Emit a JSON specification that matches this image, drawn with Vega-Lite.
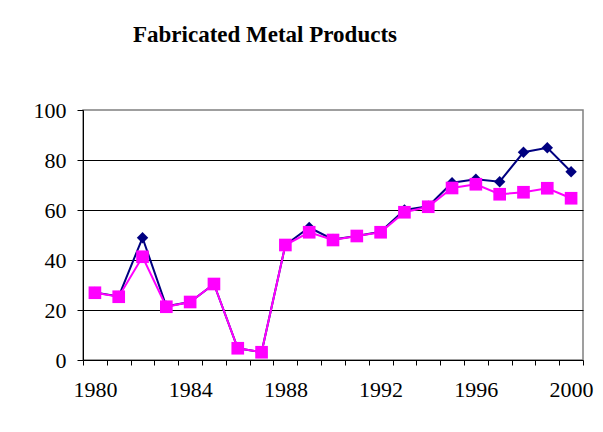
{
  "$schema": "https://vega.github.io/schema/vega-lite/v6.json",
  "width": 500,
  "height": 250,
  "autosize": {"type": "none"},
  "padding": {"left": 83, "top": 110, "right": 20, "bottom": 72},
  "background": "white",
  "title": {
    "text": "Fabricated Metal Products",
    "font": "Liberation Serif",
    "fontSize": 23,
    "fontWeight": "bold",
    "color": "black",
    "anchor": "middle",
    "frame": "group",
    "dx": -68,
    "baseline": "alphabetic",
    "offset": 34
  },
  "config": {
    "view": {"stroke": "#808080", "strokeWidth": 1.5},
    "font": "Liberation Serif"
  },
  "data": {
    "values": [
      {"year": 1980, "series": "A", "value": 27.0},
      {"year": 1981, "series": "A", "value": 25.4},
      {"year": 1982, "series": "A", "value": 48.9},
      {"year": 1983, "series": "A", "value": 21.5},
      {"year": 1984, "series": "A", "value": 23.2},
      {"year": 1985, "series": "A", "value": 30.4},
      {"year": 1986, "series": "A", "value": 4.7},
      {"year": 1987, "series": "A", "value": 3.1},
      {"year": 1988, "series": "A", "value": 46.0},
      {"year": 1989, "series": "A", "value": 53.0},
      {"year": 1990, "series": "A", "value": 48.2},
      {"year": 1991, "series": "A", "value": 49.6},
      {"year": 1992, "series": "A", "value": 51.3},
      {"year": 1993, "series": "A", "value": 60.0},
      {"year": 1994, "series": "A", "value": 61.5},
      {"year": 1995, "series": "A", "value": 70.9},
      {"year": 1996, "series": "A", "value": 72.3},
      {"year": 1997, "series": "A", "value": 71.3},
      {"year": 1998, "series": "A", "value": 83.1},
      {"year": 1999, "series": "A", "value": 84.9},
      {"year": 2000, "series": "A", "value": 75.3},
      {"year": 1980, "series": "B", "value": 26.9},
      {"year": 1981, "series": "B", "value": 25.3},
      {"year": 1982, "series": "B", "value": 41.3},
      {"year": 1983, "series": "B", "value": 21.3},
      {"year": 1984, "series": "B", "value": 23.2},
      {"year": 1985, "series": "B", "value": 30.4},
      {"year": 1986, "series": "B", "value": 4.7},
      {"year": 1987, "series": "B", "value": 3.1},
      {"year": 1988, "series": "B", "value": 46.0},
      {"year": 1989, "series": "B", "value": 51.1},
      {"year": 1990, "series": "B", "value": 48.0},
      {"year": 1991, "series": "B", "value": 49.6},
      {"year": 1992, "series": "B", "value": 51.1},
      {"year": 1993, "series": "B", "value": 59.1},
      {"year": 1994, "series": "B", "value": 61.3},
      {"year": 1995, "series": "B", "value": 68.8},
      {"year": 1996, "series": "B", "value": 70.3},
      {"year": 1997, "series": "B", "value": 66.3},
      {"year": 1998, "series": "B", "value": 67.1},
      {"year": 1999, "series": "B", "value": 68.7},
      {"year": 2000, "series": "B", "value": 64.7}
    ]
  },
  "encoding": {
    "x": {
      "field": "year",
      "type": "ordinal",
      "scale": {"type": "band", "paddingInner": 0, "paddingOuter": 0},
      "axis": {
        "title": null,
        "labelAngle": 0,
        "labelExpr": "datum.value % 4 == 0 ? datum.label : ''",
        "tickBand": "extent",
        "tickSize": 5,
        "tickColor": "black",
        "domainColor": "black",
        "labelFont": "Liberation Serif",
        "labelFontSize": 22,
        "labelColor": "black",
        "labelPadding": 14,
        "grid": false
      }
    },
    "y": {
      "field": "value",
      "type": "quantitative",
      "scale": {"domain": [0, 100], "nice": false},
      "axis": {
        "title": null,
        "values": [0, 20, 40, 60, 80, 100],
        "tickSize": 6,
        "tickColor": "black",
        "domainColor": "black",
        "labelFont": "Liberation Serif",
        "labelFontSize": 22,
        "labelColor": "black",
        "labelPadding": 11,
        "grid": true,
        "gridColor": {"condition": {"test": "datum.value == 100 || datum.value == 0", "value": "transparent"}, "value": "black"},
        "gridOpacity": 1
      }
    },
    "color": {
      "field": "series",
      "type": "nominal",
      "scale": {"domain": ["A", "B"], "range": ["#000080", "#FF00FF"]},
      "legend": null
    }
  },
  "layer": [
    {
      "transform": [{"filter": "datum.series == 'A'"}],
      "layer": [
        {"mark": {"type": "line", "strokeWidth": 2}, "encoding": {}},
        {"mark": {"type": "point", "shape": "diamond", "filled": true, "opacity": 1, "size": 130}, "encoding": {}}
      ]
    },
    {
      "transform": [{"filter": "datum.series == 'B'"}],
      "layer": [
        {"mark": {"type": "line", "strokeWidth": 2}, "encoding": {}},
        {"mark": {"type": "point", "shape": "square", "filled": true, "opacity": 1, "size": 160}, "encoding": {}}
      ]
    }
  ]
}
